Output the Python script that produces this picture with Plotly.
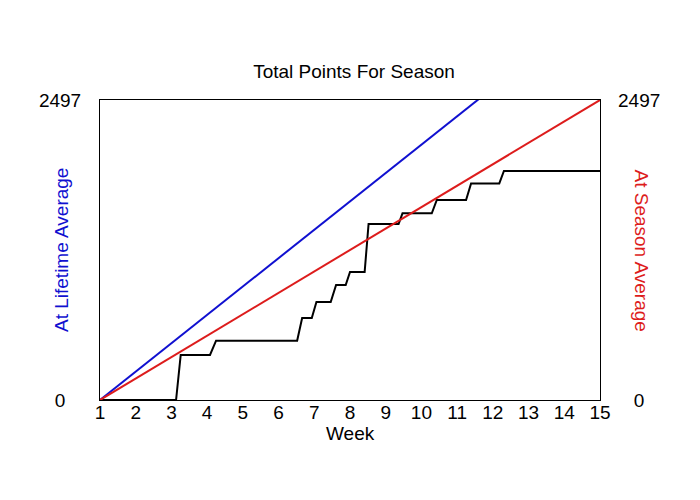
import plotly.graph_objects as go

# ---- data ----
weeks_axis = list(range(1, 16))
y_max = 2497
y_tick_vals = [0, 2497]

# actual season points (cumulative), step-like
actual_weeks = [1, 3.13, 3.26, 4.08, 4.25, 6.52, 6.66, 6.93, 7.06, 7.46, 7.61, 7.88,
                8.0, 8.41, 8.52, 9.36, 9.47, 10.29, 10.43, 11.25, 11.39, 12.18, 12.31, 15]
actual_points = [0, 0, 375, 375, 494, 494, 683, 683, 816, 816, 957, 957,
                 1065, 1065, 1465, 1465, 1554, 1554, 1665, 1665, 1803, 1803, 1906, 1906]

# at lifetime average (blue)
lifetime_weeks = [1, 15]
lifetime_points = [0, 3306]

# at season average (red)
season_weeks = [1, 15]
season_points = [0, 2497]

FONT = "Liberation Sans, Arial, sans-serif"
FS = 19
nb = "\u00a0"
BODY = 8  # default page body margin
BLUE = "#1010d0"
RED = "#dd1c1c"

fig = go.Figure()
fig.add_trace(go.Scatter(x=lifetime_weeks, y=lifetime_points, mode="lines",
                         line=dict(color=BLUE, width=2), yaxis="y", showlegend=False))
fig.add_trace(go.Scatter(x=season_weeks, y=season_points, mode="lines",
                         line=dict(color=RED, width=2), yaxis="y2", showlegend=False))
fig.add_trace(go.Scatter(x=actual_weeks, y=actual_points, mode="lines",
                         line=dict(color="black", width=2), yaxis="y", showlegend=False))

H = 500 - BODY
fig.update_layout(
    width=700 - BODY, height=H,
    margin=dict(l=100 - BODY, r=100, t=100 - BODY, b=100),
    paper_bgcolor="white", plot_bgcolor="white",
    font=dict(family=FONT, size=FS, color="black"),
    title=dict(text="Total Points For Season", x=0.5, xanchor="center",
               y=1 - (71.5 - BODY) / H, yanchor="middle", font=dict(size=FS, color="black")),
    xaxis=dict(range=[1, 15], tickvals=weeks_axis, ticks="", showgrid=False, zeroline=False,
               showline=True, linecolor="black", linewidth=1, mirror=True,
               ticklabelstandoff=-5, tickfont=dict(size=FS)),
    yaxis=dict(range=[0, y_max], tickvals=y_tick_vals, ticktext=["0" + nb * 3, "2497"],
               ticks="", showgrid=False, zeroline=False,
               showline=True, linecolor="black", linewidth=1, mirror=True,
               ticklabelstandoff=14, tickfont=dict(size=FS)),
    yaxis2=dict(range=[0, y_max], tickvals=y_tick_vals, ticktext=[nb * 3 + "0", "2497"],
                overlaying="y", side="right", ticks="", showgrid=False, zeroline=False,
                showline=False, ticklabelstandoff=17, tickfont=dict(size=FS)),
    annotations=[
        dict(text="Week", xref="paper", yref="paper", x=0.5, y=-(433 - 400) / 300,
             xanchor="center", yanchor="middle", showarrow=False, borderpad=0,
             font=dict(size=FS, color="black")),
        dict(text="At Lifetime Average", xref="paper", yref="paper", x=(61 - 100) / 500, y=0.5,
             xanchor="center", yanchor="middle", textangle=-90, showarrow=False,
             font=dict(size=FS, color=BLUE)),
        dict(text="At Season Average", xref="paper", yref="paper", x=(641.5 - 100) / 500, y=0.5,
             xanchor="center", yanchor="middle", textangle=90, showarrow=False,
             font=dict(size=FS, color=RED)),
    ],
)

fig.write_html("out.html")
